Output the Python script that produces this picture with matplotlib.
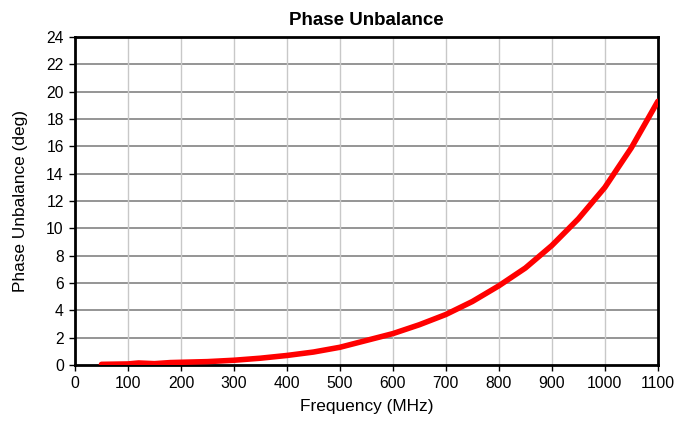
import matplotlib
matplotlib.use("Agg")
import matplotlib.pyplot as plt

freq = [50, 100, 120, 150, 180, 200, 250, 300, 350, 400, 450, 500, 550, 600,
        650, 700, 750, 800, 850, 900, 950, 1000, 1050, 1100]
phase = [0.05, 0.08, 0.15, 0.1, 0.18, 0.2, 0.25, 0.35, 0.5, 0.7, 0.95, 1.3, 1.8, 2.3,
         2.95, 3.7, 4.65, 5.8, 7.1, 8.75, 10.7, 13.0, 15.9, 19.3]
xticks = list(range(0, 1101, 100))
yticks = list(range(0, 25, 2))

plt.rcParams['font.family'] = ['Liberation Sans', 'DejaVu Sans']
fig = plt.figure(figsize=(6.91, 4.22), dpi=100)
ax = fig.add_axes([0.1085, 0.135, 0.8435, 0.777])
ax.plot(freq, phase, color='#ff0000', lw=4, solid_capstyle='round', zorder=3)
ax.set_xlim(0, 1100)
ax.set_ylim(0, 24)
ax.set_xticks(xticks)
ax.set_yticks(yticks)
for y in yticks[1:-1]:
    ax.axhline(y, color='#8c8c8c', lw=1.3, zorder=1)
for x in xticks[1:-1]:
    ax.axvline(x, color='#c8c8c8', lw=1.0, zorder=1)
for s in ax.spines.values():
    s.set_linewidth(2)
    s.set_color('black')
ax.tick_params(direction='out', length=4, width=1, labelsize=11.3, colors='black', pad=4)
ax.set_title('Phase Unbalance', fontsize=13.5, fontweight='bold', pad=9)
ax.set_xlabel('Frequency (MHz)', fontsize=12.4, labelpad=6)
ax.set_ylabel('Phase Unbalance (deg)', fontsize=12.4, labelpad=13)
fig.savefig('out.png', dpi=100)
